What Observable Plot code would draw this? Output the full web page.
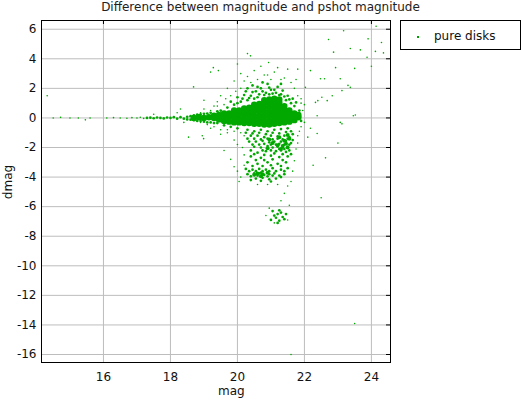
<!DOCTYPE html>
<html>
<head>
<meta charset="utf-8">
<script src="https://cdn.jsdelivr.net/npm/d3@7"></script>
<script src="https://cdn.jsdelivr.net/npm/@observablehq/plot@0.6"></script>
<style>
  body { margin: 0; background: #fff; font-family: "DejaVu Sans", sans-serif; }
  #wrap { position: relative; width: 521px; height: 400px; overflow: hidden; background: #fff; }
  #wrap svg { position: absolute; left: 0; top: 0; }
  .lbl { position: absolute; font-size: 12px; color: #111; white-space: nowrap; line-height: 1; }
  #title { left: 0; width: 521px; text-align: center; top: 1px; color: #222; }
  #xlabel { left: 218px; top: 385px; }
  #ylabel { left: -9px; top: 176px; transform: rotate(-90deg); transform-origin: 50% 50%; }
  #legend { position: absolute; left: 400px; top: 20px; width: 119px; height: 28px; border: 1px solid #000; background: #fff; }
  #legend .sw { position: absolute; left: 16px; top: 15px; width: 2px; height: 2px; background: #00a000; }
  #legend .tx { position: absolute; left: 33px; top: 9px; font-size: 12px; color: #111; line-height: 1; }
</style>
</head>
<body>
<div id="wrap">
  <div id="title" class="lbl">Difference between magnitude and pshot magnitude</div>
  <div id="xlabel" class="lbl">mag</div>
  <div id="ylabel" class="lbl">dmag</div>
  <div id="legend"><div class="sw"></div><div class="tx">pure disks</div></div>
</div>
<script>
// Axis settings
const xTicks = [16, 18, 20, 22, 24];
const yTicks = [-16, -14, -12, -10, -8, -6, -4, -2, 0, 2, 4, 6];
const xDomain = [14.15, 24.57];
const yDomain = [-16.54, 6.59];
const seriesName = "pure disks";

// Densest part of the cloud [mag, dmag]
const denseCore = [
  [18.7,0.0],[18.85,0.05],[19.0,0.0],[19.15,0.05],[19.3,0.0],[19.3,0.15],[19.45,-0.1],[19.45,0.2],
  [19.6,-0.2],[19.6,0.1],[19.6,0.3],
  [19.75,-0.25],[19.75,0.05],[19.75,0.3],
  [19.9,-0.3],[19.9,0.0],[19.9,0.3],[19.9,0.5],
  [20.05,-0.3],[20.05,-0.05],[20.05,0.25],[20.05,0.5],
  [20.2,-0.35],[20.2,-0.1],[20.2,0.2],[20.2,0.45],[20.2,0.65],
  [20.35,-0.35],[20.35,-0.1],[20.35,0.2],[20.35,0.5],[20.35,0.7],
  [20.5,-0.4],[20.5,-0.15],[20.5,0.15],[20.5,0.45],[20.5,0.75],[20.5,0.9],
  [20.65,-0.4],[20.65,-0.15],[20.65,0.15],[20.65,0.45],[20.65,0.75],[20.65,0.95],
  [20.8,-0.45],[20.8,-0.2],[20.8,0.1],[20.8,0.4],[20.8,0.7],[20.8,1.0],[20.8,1.2],
  [20.95,-0.45],[20.95,-0.2],[20.95,0.1],[20.95,0.4],[20.95,0.7],[20.95,1.0],[20.95,1.25],
  [21.1,-0.4],[21.1,-0.15],[21.1,0.15],[21.1,0.45],[21.1,0.75],[21.1,1.05],[21.1,1.3],
  [21.25,-0.35],[21.25,-0.1],[21.25,0.2],[21.25,0.5],[21.25,0.8],[21.25,1.05],[21.25,1.25],
  [21.4,-0.3],[21.4,-0.05],[21.4,0.25],[21.4,0.55],[21.4,0.8],
  [21.55,-0.25],[21.55,0.0],[21.55,0.3],[21.55,0.5],
  [21.7,-0.15],[21.7,0.1],[21.7,0.3],
  [21.82,0.05],[21.82,0.2]
];

// Denser clumps inside the lower bands [mag, dmag]
const lowerClumps = [
  [21.2,-1.85],[21.35,-1.9],[21.5,-2.0],[21.3,-2.1],[21.45,-1.75],[21.4,-1.55],[21.55,-1.4],[21.5,-1.15],
  [20.6,-3.75],[20.75,-3.8],[20.9,-3.7],[20.7,-3.95],[20.5,-3.85],
  [20.95,-1.45],[21.05,-1.7],[20.9,-2.05],[21.25,-1.3]
];

// Medium-density parts [mag, dmag]
const mediumCloud = [
  // bright tail
  [17.3,0.0],[17.4,0.02],[17.5,-0.02],[17.6,0.03],[17.7,0.0],[17.8,-0.03],[17.9,0.03],[18.0,0.0],
  [18.1,0.05],[18.2,-0.05],[18.3,0.05],[18.4,-0.05],[18.5,0.08],[18.5,-0.1],[18.6,0.12],[18.6,-0.12],
  [18.7,0.18],[18.7,-0.15],[18.8,-0.2],[18.8,0.22],[18.9,0.25],[18.9,-0.2],[19.0,0.28],[19.0,-0.25],
  [19.1,0.3],[19.1,-0.3],[19.2,0.35],[19.2,-0.3],[19.3,-0.35],[19.4,0.45],
  // halo above the core
  [19.9,0.9],[20.1,1.1],[20.0,1.4],[20.3,1.2],[20.4,1.5],[20.25,1.8],[20.6,1.4],[20.55,1.8],
  [20.7,2.0],[20.85,1.7],[21.0,1.9],[21.15,1.7],[21.3,1.6],[21.45,1.2],[21.5,1.5],[21.6,1.0],
  [21.7,0.8],[20.45,2.2],[20.9,2.3],[21.2,2.1],[19.7,0.7],[19.5,0.5],[19.6,-0.5],[19.8,-0.6],
  [20.0,-0.7],[19.4,-0.35],[21.85,0.5],[21.9,-0.2],
  [19.8,1.1],[20.0,1.0],[20.15,1.3],[20.2,1.55],[20.35,1.35],[20.5,1.3],[20.45,1.75],[20.65,1.6],
  [20.75,1.8],[20.6,2.1],[20.8,1.55],[20.95,1.6],[21.05,1.65],[21.1,1.9],[21.25,1.55],[21.35,1.85],
  [21.4,1.45],[21.55,1.25],[21.65,1.3],[21.75,1.05],[20.3,2.0],[20.95,2.05],[21.3,2.3],[20.75,2.4],
  // first band below the core
  [20.3,-0.8],[20.5,-0.9],[20.7,-0.8],[20.9,-0.9],[21.1,-0.8],[21.3,-0.75],[21.5,-0.7],[21.6,-0.9],
  [20.25,-1.0],[20.45,-1.05],[20.65,-1.0],[20.85,-1.1],[21.05,-1.0],[21.25,-1.05],[21.45,-0.95],[21.65,-1.1],
  [20.4,-1.2],[20.6,-1.2],[20.8,-1.3],[21.0,-1.2],[21.2,-1.25],[21.4,-1.2],[21.55,-1.3],
  [20.3,-1.4],[20.5,-1.4],[20.7,-1.45],[20.9,-1.4],[21.05,-1.45],[21.2,-1.4],[21.35,-1.45],[21.5,-1.4],[21.65,-1.5],
  [20.35,-1.6],[20.55,-1.6],[20.75,-1.55],[20.95,-1.65],[21.1,-1.6],[21.3,-1.6],[21.45,-1.55],[21.6,-1.7],
  [20.45,-1.8],[20.65,-1.8],[20.8,-1.75],[21.0,-1.8],[21.15,-1.8],[21.25,-1.75],[21.4,-1.8],[21.55,-1.8],
  [20.5,-1.95],[20.7,-2.0],[20.9,-1.9],[21.05,-2.0],[21.2,-1.95],[21.35,-2.0],[21.5,-1.95],
  [21.3,-2.2],[21.15,-2.25],[21.45,-2.3],[20.85,-2.25],[20.6,-2.35],
  [20.4,-2.2],[20.75,-2.2],[21.0,-2.2],[21.25,-2.1],[21.4,-2.1],[21.55,-2.2],
  [20.5,-2.45],[20.8,-2.5],[21.1,-2.4],[21.35,-2.45],[21.6,-2.45],
  [20.4,-2.6],[20.7,-2.7],[21.0,-2.55],[21.25,-2.65],[21.5,-2.6],
  [20.55,-2.85],[20.8,-2.85],[21.05,-2.8],[21.35,-2.85],
  [20.3,-3.0],[20.6,-3.1],[20.9,-3.0],[21.2,-3.1],[21.45,-3.0],
  [20.45,-3.25],[20.75,-3.25],[21.0,-3.2],[21.3,-3.25],
  // second band
  [20.25,-3.45],[20.45,-3.5],[20.65,-3.45],[20.85,-3.5],[21.05,-3.4],[21.3,-3.5],[21.5,-3.4],
  [20.35,-3.6],[20.55,-3.6],[20.75,-3.6],[20.95,-3.6],[21.15,-3.6],[21.4,-3.6],
  [20.3,-3.8],[20.5,-3.75],[20.6,-3.9],[20.7,-3.7],[20.8,-3.85],[20.95,-3.8],[21.1,-3.75],
  [21.25,-3.9],[21.4,-3.8],[20.55,-4.1],[20.75,-4.05],[20.95,-4.15],[21.15,-4.1],[20.4,-4.2],
  [20.4,-3.95],[20.65,-3.75],[20.9,-3.95],[21.05,-3.9],[21.3,-4.0],[20.7,-4.25],[21.0,-4.3],
  // third clump
  [21.05,-6.3],[21.2,-6.5],[21.3,-6.4],[21.15,-6.75],[21.35,-6.7],[21.0,-6.9],[21.25,-6.95],[21.45,-6.5],
  [21.1,-6.6],[21.25,-6.25],[21.4,-6.85],[21.2,-7.1]
];

// Sparse points and outliers [mag, dmag]
const sparseScatter = [
  [14.32,1.5],[14.5,0.0],[14.72,0.04],[15.0,0.0],[15.25,0.0],[15.46,-0.13],[15.6,0.0],[16.1,0.0],
  [16.3,0.02],[16.5,0.0],[16.7,-0.02],[16.85,0.02],[17.0,0.0],[17.1,0.05],[17.2,-0.03],[17.5,0.25],
  [18.2,0.35],[18.3,0.6],[18.4,-0.3],[18.9,-0.3],[18.9,0.35],[19.1,-0.45],[19.2,0.5],
  [18.54,-1.3],[18.95,-1.2],[18.99,-1.4],[19.4,1.1],[18.69,2.1],[19.3,0.8],[19.0,1.2],[19.5,1.5],
  [19.2,3.1],[19.28,3.4],[19.43,3.2],[19.7,2.0],[19.9,2.5],[20.0,3.65],[20.1,3.0],[20.3,2.8],
  [20.3,4.35],[20.39,4.2],[20.5,3.2],[20.4,2.4],[20.7,3.5],[20.93,3.75],[20.9,2.9],[21.1,3.1],
  [21.3,2.6],[21.5,3.3],[21.6,2.4],[21.7,2.0],[21.8,1.5],[21.8,3.3],[21.9,1.0],[22.03,2.07],
  [22.18,3.2],[22.48,2.65],[22.4,1.17],[22.33,1.05],[22.52,1.4],[22.68,1.17],[22.83,1.5],
  [22.6,2.65],[23.07,2.65],[23.3,2.2],[23.12,1.85],[23.37,2.07],[22.93,3.4],[23.5,3.35],
  [24.0,3.5],[22.87,4.45],[23.67,4.6],[23.37,4.7],[23.87,4.1],[24.12,4.5],[24.36,4.4],
  [22.72,5.3],[23.9,5.35],[24.3,5.1],[23.17,5.9],[24.14,6.2],
  [22.38,0.15],[23.52,0.2],[23.46,0.15],[23.12,-0.4],[23.07,-0.3],[23.0,-1.7],[22.38,-1.05],
  [22.18,-0.7],[22.63,-2.7],[22.26,-3.2],[22.5,-5.4],
  [19.7,-1.0],[19.9,-1.5],[19.6,-2.2],[19.8,-2.8],[20.0,-3.6],[20.1,-4.0],[20.05,-4.3],
  [19.9,-3.3],[20.15,-2.0],[20.2,-1.2],[19.5,-0.8],[19.3,-0.6],[21.8,-1.2],[21.75,-2.1],
  [21.7,-2.9],[21.65,-3.6],[21.6,-4.3],[21.5,-4.6],[21.4,-5.1],[21.3,-5.6],[21.55,-5.9],
  [20.9,-4.5],[21.2,-4.5],[20.6,-4.5],[20.95,-6.1],[21.5,-6.9],[21.1,-7.1],[20.85,-6.6],
  [22.0,-0.3],[22.1,-1.3],[21.95,0.5],
  [19.0,0.6],[19.2,-0.7],[19.4,0.8],[19.6,0.9],[19.5,-1.1],[19.8,1.5],[19.65,1.3],[19.7,-0.8],
  [19.9,-0.9],[20.1,-1.0],[20.0,-1.8],[20.2,-2.5],[20.2,-3.2],[20.1,2.0],[20.2,2.5],[19.95,1.8],
  [21.9,1.3],[21.9,-0.6],[22.0,0.9],[21.85,-0.9],[21.8,-1.7],[21.75,2.6],[20.6,2.6],[21.0,2.6],
  [21.4,2.7],[20.8,2.9],[21.2,3.4],
  [21.6,-16.0],[23.5,-13.9]
];

const green = "#00a800";
const fmt = d => String(d);

const chart = Plot.plot({
  width: 521,
  height: 400,
  marginLeft: 41,
  marginRight: 131,
  marginTop: 20,
  marginBottom: 38,
  style: { fontFamily: "DejaVu Sans, sans-serif", fontSize: "12px", color: "#111", background: "transparent" },
  x: { domain: xDomain },
  y: { domain: yDomain },
  marks: [
    Plot.gridX(xTicks, { stroke: "#bdbdbd", strokeOpacity: 1 }),
    Plot.gridY(yTicks, { stroke: "#bdbdbd", strokeOpacity: 1 }),
    Plot.dot(denseCore, { x: d => d[0], y: d => d[1], r: 3.2, fill: green }),
    Plot.dot(lowerClumps, { x: d => d[0], y: d => d[1], r: 2, fill: green }),
    Plot.dot(mediumCloud, { x: d => d[0], y: d => d[1], r: 1.35, fill: green }),
    Plot.dot(sparseScatter, { x: d => d[0], y: d => d[1], r: 0.8, fill: green }),
    Plot.tickX(xTicks, { x: d => d, insetBottom: 338, stroke: "#000" }),
    Plot.tickY(yTicks, { y: d => d, insetLeft: 345, stroke: "#000" }),
    Plot.frame({ stroke: "#000" }),
    Plot.axisX(xTicks, { tickSize: 0, tickPadding: 9.5, tickFormat: fmt, label: null, fontSize: 12 }),
    Plot.axisY(yTicks, { tickSize: 0, tickPadding: 5, tickFormat: fmt, label: null, fontSize: 12 })
  ]
});
document.getElementById("wrap").prepend(chart);
</script>
</body>
</html>
